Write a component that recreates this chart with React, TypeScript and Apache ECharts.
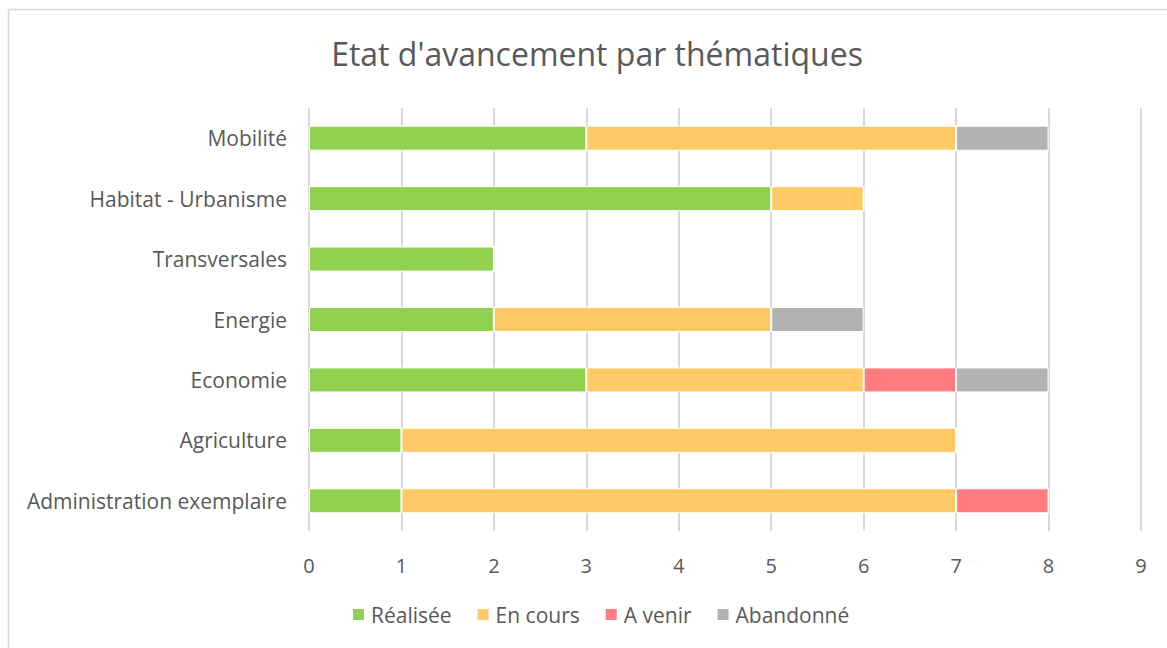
import React, { useEffect, useRef } from "react";
import * as echarts from "echarts";

const categories = [
  "Administration exemplaire",
  "Agriculture",
  "Economie",
  "Energie",
  "Transversales",
  "Habitat - Urbanisme",
  "Mobilité",
];
const realisee = [1, 1, 3, 2, 2, 5, 3];
const enCours = [6, 6, 3, 3, 0, 1, 4];
const aVenir = [1, 0, 1, 0, 0, 0, 0];
const abandonne = [0, 0, 1, 1, 0, 0, 1];
const seriesNames = ["Réalisée", "En cours", "A venir", "Abandonné"];
const colors = ["#92d050", "#ffca66", "#ff7c80", "#b2b2b2"];

const FONT = "'Open Sans', sans-serif";
const TEXT = "#595959";

export default function App() {
  const ref = useRef<HTMLDivElement>(null);
  useEffect(() => {
    if (!ref.current) return;
    const chart = echarts.init(ref.current, undefined, { renderer: "svg" });
    const data = [realisee, enCours, aVenir, abandonne];
    chart.setOption({
      animation: false,
      backgroundColor: "#ffffff",
      title: {
        text: "Etat d'avancement par thématiques",
        left: 592,
        top: 32,
        textAlign: "center",
        textStyle: { fontFamily: FONT, fontSize: 32, fontWeight: "normal", color: TEXT },
      },
      legend: {
        bottom: 18,
        left: 346,
        itemWidth: 13,
        itemHeight: 13,
        itemGap: 24,
        icon: "rect",
        textStyle: { fontFamily: FONT, fontSize: 21, color: TEXT, padding: [0, 0, 0, 1] },
        data: seriesNames,
      },
      grid: { left: 309, right: 26, top: 108, bottom: 117, containLabel: false },
      xAxis: {
        type: "value",
        min: 0,
        max: 9,
        interval: 1,
        axisLine: { show: false },
        axisTick: { show: false },
        splitLine: { lineStyle: { color: "#d9d9d9", width: 2 } },
        axisLabel: { fontFamily: FONT, fontSize: 20, color: TEXT, margin: 24 },
      },
      yAxis: {
        type: "category",
        data: categories,
        axisLine: { show: false },
        axisTick: { show: false },
        axisLabel: { fontFamily: FONT, fontSize: 21, color: TEXT, margin: 22 },
      },
      series: seriesNames.map((name, i) => ({
        name,
        type: "bar",
        stack: "total",
        barWidth: 25,
        data: data[i],
        itemStyle: { color: colors[i], borderColor: "#ffffff", borderWidth: 1 },
      })),
      graphic: [
        { type: "line", shape: { x1: 8.5, y1: 9.5, x2: 1167, y2: 9.5 }, style: { stroke: "#d9d9d9", lineWidth: 1.5 } },
        { type: "line", shape: { x1: 8.5, y1: 9.5, x2: 8.5, y2: 648 }, style: { stroke: "#d9d9d9", lineWidth: 1.5 } },
      ],
    });
    return () => chart.dispose();
  }, []);
  return (
    <div
      ref={ref}
      style={{ position: "fixed", left: 0, top: 0, width: 1167, height: 648 }}
    />
  );
}
